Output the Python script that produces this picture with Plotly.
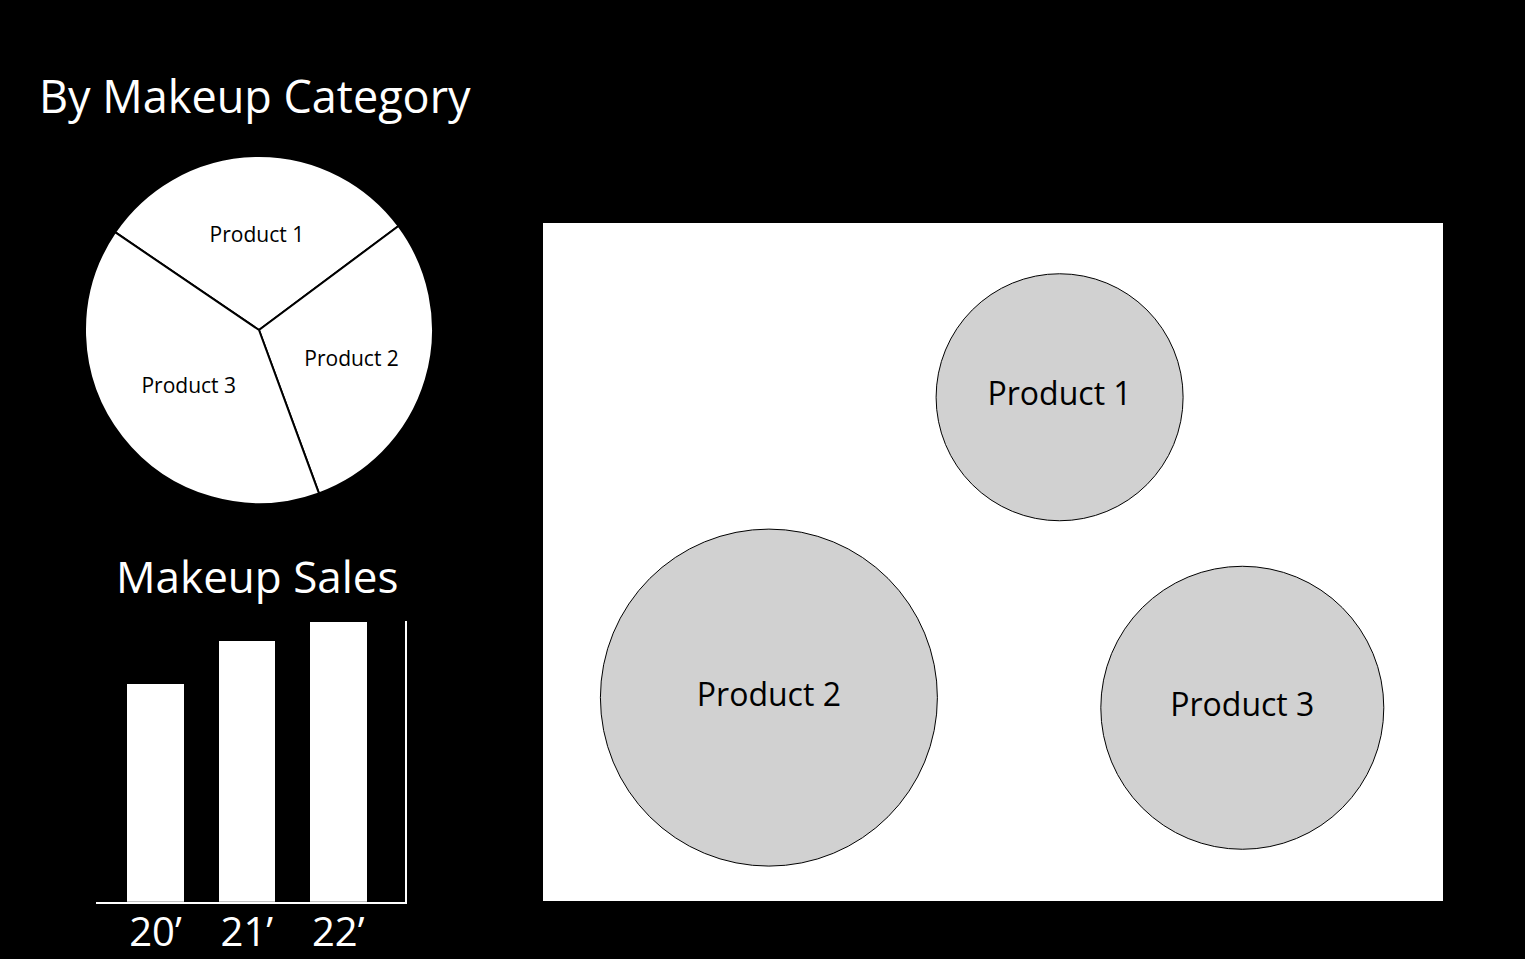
import plotly.graph_objects as go

W, H = 1525, 959
FONT = "Open Sans"

# ---------------- data ----------------
pie_labels = ["Product 1", "Product 2", "Product 3"]
pie_values = [30.3, 29.6, 40.1]

bar_years = ["20\u2019", "21\u2019", "22\u2019"]
bar_sales = [77.5, 93, 99.5]

bubble_labels = ["Product 1", "Product 2", "Product 3"]
bubble_x = [5.74, 2.51, 7.77]
bubble_y = [7.43, 3.00, 2.85]
bubble_size = [247, 337, 283]

# ---------------- figure ----------------
fig = go.Figure()

fig.add_trace(go.Pie(
    labels=pie_labels, values=pie_values,
    sort=False, direction="clockwise", rotation=-55.8,
    marker=dict(colors=["white"] * 3, line=dict(color="black", width=2)),
    textinfo="label", textposition="inside", insidetextorientation="horizontal",
    textfont=dict(family=FONT, size=21, color="black"),
    domain=dict(x=[85 / W, 433 / W], y=[(H - 504) / H, (H - 156) / H]),
    showlegend=False, hoverinfo="label+percent", automargin=False,
))

fig.add_trace(go.Bar(
    x=bar_years, y=bar_sales, width=0.62,
    marker=dict(color="white", line=dict(width=0)),
    xaxis="x", yaxis="y", showlegend=False,
))

fig.add_trace(go.Scatter(
    x=bubble_x, y=bubble_y, text=bubble_labels,
    mode="markers+text", textposition="middle center",
    textfont=dict(family=FONT, size=32, color="black"),
    marker=dict(size=bubble_size, sizemode="diameter", sizeref=1,
                color="#d1d1d1", line=dict(color="black", width=1), opacity=1),
    xaxis="x2", yaxis="y2", showlegend=False,
))

fig.update_layout(
    width=W, height=H, autosize=False,
    margin=dict(l=0, r=0, t=0, b=0, pad=0, autoexpand=False),
    paper_bgcolor="black", plot_bgcolor="black",
    font=dict(family=FONT, color="white"),
    bargap=0,
    xaxis=dict(
        domain=[96 / W, 405 / W], type="category", range=[-0.65, 2.73],
        showline=True, linecolor="white", linewidth=2,
        showgrid=False, zeroline=False, ticks="", automargin=False,
        tickfont=dict(family=FONT, size=40, color="white"),
        ticklabelstandoff=-6,
        fixedrange=True,
    ),
    yaxis=dict(
        domain=[(H - 901.7) / H, (H - 620.7) / H], range=[0, 100],
        side="right", showline=True, linecolor="white", linewidth=2,
        showgrid=False, zeroline=False, showticklabels=False, ticks="",
        automargin=False, fixedrange=True,
    ),
    xaxis2=dict(
        domain=[543 / W, 1443 / W], range=[0, 10], anchor="y2",
        visible=False, fixedrange=True, automargin=False,
    ),
    yaxis2=dict(
        domain=[(H - 901) / H, (H - 223) / H], range=[0, 10], anchor="x2",
        visible=False, fixedrange=True, automargin=False,
    ),
    shapes=[dict(
        type="rect", xref="x2 domain", yref="y2 domain",
        x0=0, x1=1, y0=0, y1=1, fillcolor="white",
        line=dict(width=0), layer="below",
    )],
    annotations=[
        dict(text="By Makeup Category", x=37 / W, y=1 - 96 / H,
             xref="paper", yref="paper", xanchor="left", yanchor="middle",
             showarrow=False, font=dict(family=FONT, size=45, color="white")),
        dict(text="Makeup Sales", x=257.5 / W, y=1 - 576 / H,
             xref="paper", yref="paper", xanchor="center", yanchor="middle",
             showarrow=False, font=dict(family=FONT, size=44, color="white")),
    ],
)

fig.write_html("out.html", config={"displayModeBar": False})
